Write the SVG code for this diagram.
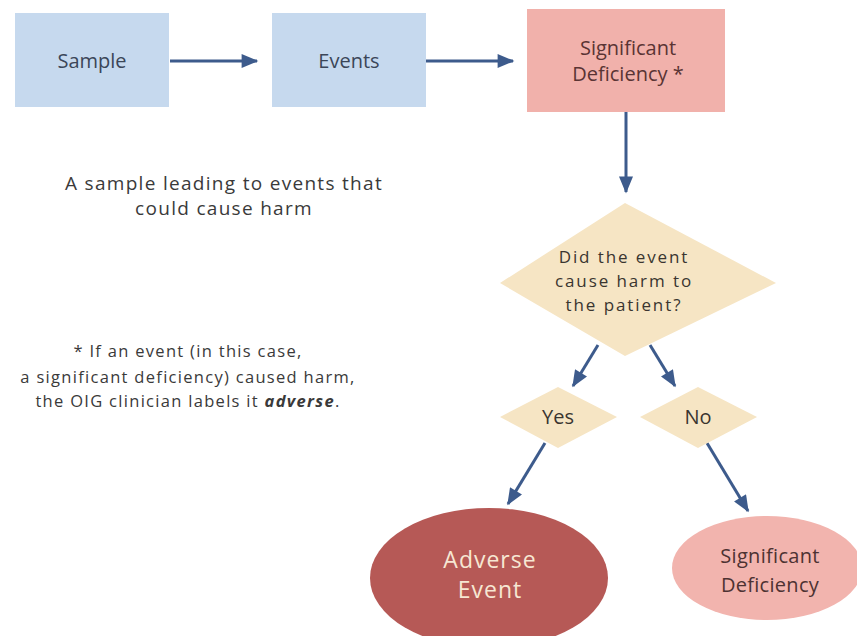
<svg xmlns="http://www.w3.org/2000/svg" width="857" height="636" viewBox="0 0 857 636">
<defs>
<marker id="arr" viewBox="0 0 12 10" refX="11" refY="5" markerWidth="18" markerHeight="14" markerUnits="userSpaceOnUse" orient="auto">
<path d="M0,0 L12,5 L0,10 Z" fill="#3d5b8c"/>
</marker>
<style>
.t{font-family:"Open Sans","Liberation Sans",sans-serif;text-anchor:middle;}
.blue{fill:#c6d9ee;}
.pink{fill:#f1b1ab;}
.tan{fill:#f6e5c4;}
.c{stroke:#3d5b8c;stroke-width:3;fill:none;marker-end:url(#arr);}
.note{fill:#3a3a3a;}
</style>
</defs>
<rect width="857" height="636" fill="#ffffff"/>
<g id="connectors">
<line class="c" x1="170" y1="61" x2="257" y2="61"/>
<line class="c" x1="426" y1="61" x2="513" y2="61"/>
<line class="c" x1="626" y1="112" x2="626" y2="192"/>
<line class="c" x1="598" y1="345" x2="573" y2="386"/>
<line class="c" x1="650" y1="345" x2="675" y2="386"/>
<line class="c" x1="545" y1="443" x2="508" y2="504"/>
<line class="c" x1="707" y1="443" x2="748" y2="511"/>
</g>
<g id="sample">
<rect class="blue" x="15" y="13" width="154" height="94"/>
<text class="t" x="92" y="68" font-size="20" fill="#3b4658">Sample</text>
</g>
<g id="events">
<rect class="blue" x="272" y="13" width="154" height="94"/>
<text class="t" x="349" y="68" font-size="20" fill="#3b4658">Events</text>
</g>
<g id="sigdef">
<rect class="pink" x="527" y="9" width="198" height="103"/>
<text class="t" x="628" y="55" font-size="20" fill="#5a3434">Significant</text>
<text class="t" x="628" y="81" font-size="20" fill="#5a3434">Deficiency *</text>
</g>
<g id="caption">
<text class="t note" x="224" y="190" font-size="19" letter-spacing="1.3">A sample leading to events that</text>
<text class="t note" x="224" y="215" font-size="19" letter-spacing="1.3">could cause harm</text>
</g>
<g id="question">
<polygon class="tan" points="625,203 776,283 625,356 500,283"/>
<text class="t" x="624" y="263" font-size="17" letter-spacing="1.9" fill="#3a3530">Did the event</text>
<text class="t" x="624" y="287" font-size="17" letter-spacing="1.9" fill="#3a3530">cause harm to</text>
<text class="t" x="624" y="311" font-size="17" letter-spacing="1.9" fill="#3a3530">the patient?</text>
</g>
<g id="yes">
<polygon class="tan" points="558,387 617,417 558,448 500,417"/>
<text class="t" x="558" y="424" font-size="20" fill="#3a3530">Yes</text>
</g>
<g id="no">
<polygon class="tan" points="698,387 757,417 698,448 640,417"/>
<text class="t" x="698" y="424" font-size="20" fill="#3a3530">No</text>
</g>
<g id="adverse">
<ellipse cx="489" cy="578" rx="119" ry="70" fill="#b65956"/>
<text class="t" x="490" y="568" font-size="23" letter-spacing="1" fill="#f6e7d3">Adverse</text>
<text class="t" x="490" y="598" font-size="23" letter-spacing="1" fill="#f6e7d3">Event</text>
</g>
<g id="sigdef2">
<ellipse cx="767" cy="568" rx="95" ry="52" fill="#f2b4ae"/>
<text class="t" x="770" y="563" font-size="20" letter-spacing="0.3" fill="#4d3232">Significant</text>
<text class="t" x="770" y="592" font-size="20" letter-spacing="0.3" fill="#4d3232">Deficiency</text>
</g>
<g id="footnote">
<text class="t note" x="188" y="357" font-size="16.5" letter-spacing="1.3">* If an event (in this case,</text>
<text class="t note" x="188" y="383" font-size="16.5" letter-spacing="1.3">a significant deficiency) caused harm,</text>
<text class="t note" x="188" y="407" font-size="16.5" letter-spacing="1.3">the OIG clinician labels it <tspan font-weight="bold" font-style="italic">adverse</tspan>.</text>
</g>
</svg>
